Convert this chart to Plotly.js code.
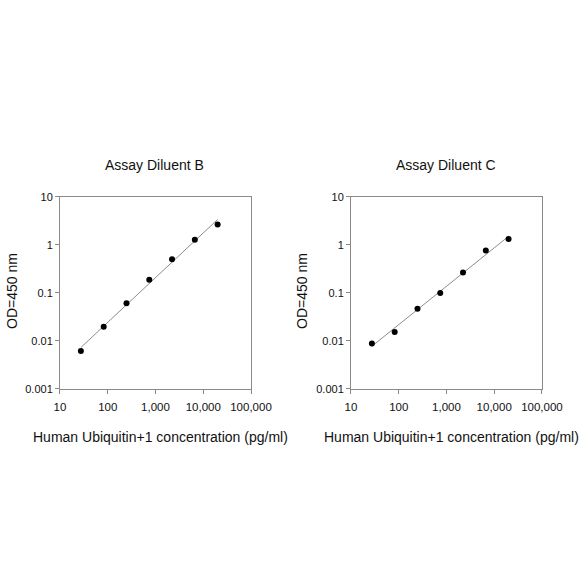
<!DOCTYPE html>
<html>
<head>
<meta charset="utf-8">
<script src="https://cdn.plot.ly/plotly-3.0.1.min.js"></script>
<style>html,body{margin:0;padding:0;background:#fff;}#chart{width:584px;height:584px;}</style>
</head>
<body>
<div id="chart"></div>
<script>
// Data
const concentration = [27.4, 82.3, 247, 741, 2222, 6667, 20000];
const odDiluentB = [0.0062, 0.0196, 0.061, 0.187, 0.50, 1.27, 2.66];
const odDiluentC = [0.0088, 0.0154, 0.047, 0.100, 0.266, 0.76, 1.33];
const panelTitles = ["Assay Diluent B", "Assay Diluent C"];
const xTickVals = [10, 100, 1000, 10000, 100000];
const xTickText = ["10", "100", "1,000", "10,000", "100,000"];
const yTickVals = [0.001, 0.01, 0.1, 1, 10];
const yTickText = ["0.001", "0.01", "0.1", "1", "10"];
const xTitle = "Human Ubiquitin+1 concentration (pg/ml)";
const yTitle = "OD=450 nm";

function logFit(xs, ys) {
  const lx = xs.map(Math.log10), ly = ys.map(Math.log10);
  const n = lx.length;
  const mx = lx.reduce((a, b) => a + b, 0) / n;
  const my = ly.reduce((a, b) => a + b, 0) / n;
  let sxy = 0, sxx = 0;
  for (let i = 0; i < n; i++) { sxy += (lx[i] - mx) * (ly[i] - my); sxx += (lx[i] - mx) ** 2; }
  const b = sxy / sxx, a = my - b * mx;
  const x0 = Math.min(...xs), x1 = Math.max(...xs);
  return { x: [x0, x1], y: [x0, x1].map(v => Math.pow(10, a + b * Math.log10(v))) };
}

const font = "Arial, 'Liberation Sans', sans-serif";
const lineCol = "#8a8a8a";
const traces = [];
[odDiluentB, odDiluentC].forEach((ys, i) => {
  const ax = i === 0 ? "" : "2";
  const fit = logFit(concentration, ys);
  traces.push({ x: fit.x, y: fit.y, mode: "lines", type: "scatter", xaxis: "x" + ax, yaxis: "y" + ax,
    line: { color: "#8c8c8c", width: 1 }, hoverinfo: "skip", showlegend: false });
  traces.push({ x: concentration, y: ys, mode: "markers", type: "scatter", xaxis: "x" + ax, yaxis: "y" + ax,
    marker: { color: "#000", size: 6 }, showlegend: false });
});

function xa(domain, anchor) {
  return { type: "log", range: [1, 5], domain: domain, anchor: anchor, tickvals: xTickVals, ticktext: xTickText,
    ticks: "outside", ticklen: 4, tickcolor: lineCol, showline: true, linecolor: lineCol, linewidth: 1, mirror: true,
    ticklabelstandoff: 3,
    showgrid: false, zeroline: false, tickfont: { family: font, size: 11.5, color: "#111" } };
}
function ya(anchor) {
  return { type: "log", range: [-3, 1], domain: [0.334, 0.663], anchor: anchor, tickvals: yTickVals, ticktext: yTickText,
    ticks: "outside", ticklen: 4, tickcolor: lineCol, showline: true, linecolor: lineCol, linewidth: 1, mirror: true,
    showgrid: false, zeroline: false, tickfont: { family: font, size: 11, color: "#111" } };
}

const ann = (text, x, y, rot) => ({ text: text, x: x, y: y, xref: "paper", yref: "paper", showarrow: false,
  xanchor: "center", yanchor: "middle", textangle: rot || 0, font: { family: font, size: 14, color: "#111" } });

const layout = {
  width: 584, height: 584, margin: { l: 0, r: 0, t: 0, b: 0 },
  paper_bgcolor: "#fff", plot_bgcolor: "#fff", showlegend: false,
  xaxis: xa([0.1027, 0.4298], "y"), yaxis: ya("x"),
  xaxis2: xa([0.601, 0.928], "y2"), yaxis2: ya("x2"),
  annotations: [
    ann(panelTitles[0], 154 / 584, (584 - 165) / 584),
    ann(panelTitles[1], 446 / 584, (584 - 165) / 584),
    ann(yTitle, 12 / 584, (584 - 291) / 584, -90),
    ann(yTitle, 302 / 584, (584 - 291) / 584, -90),
    ann(xTitle, 160 / 584, (584 - 437) / 584),
    ann(xTitle, 451 / 584, (584 - 437) / 584)
  ]
};
Plotly.newPlot("chart", traces, layout, { staticPlot: true, displayModeBar: false });
</script>
</body>
</html>
